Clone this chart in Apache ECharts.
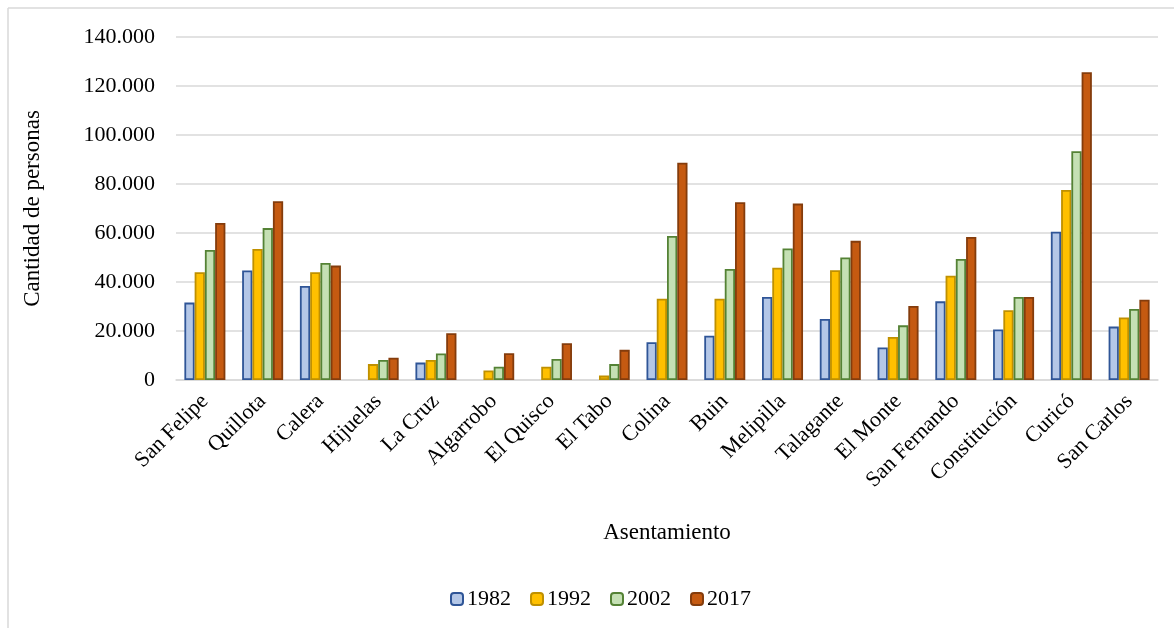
<!DOCTYPE html>
<html>
<head>
    <meta charset="UTF-8" />
    <title>Asentamiento</title>
    <script src="https://cdn.jsdelivr.net/npm/echarts@6/dist/echarts.min.js"></script>
    <style>
        html, body { margin: 0; padding: 0; background: #fff; }
        #main { width: 1174px; height: 628px; }
    </style>
</head>
<body>
    <div id="main"></div>
    <script>
        var categorias = ['San Felipe', 'Quillota', 'Calera', 'Hijuelas', 'La Cruz', 'Algarrobo', 'El Quisco',
            'El Tabo', 'Colina', 'Buin', 'Melipilla', 'Talagante', 'El Monte', 'San Fernando',
            'Constitución', 'Curicó', 'San Carlos'];
        var anos = ['1982', '1992', '2002', '2017'];
        var v1982 = [31600, 44700, 38400, null, 7100, null, null, null, 15400, 18100, 33900, 24900, 13300, 32100, 20600, 60500, 21800];
        var v1992 = [44000, 53500, 44000, 6500, 8200, 3900, 5400, 1800, 33200, 33200, 45800, 44800, 17600, 42600, 28500, 77600, 25500];
        var v2002 = [53100, 62000, 47800, 8200, 10800, 5400, 8600, 6500, 58800, 45300, 53700, 50000, 22300, 49400, 33900, 93400, 29000];
        var v2017 = [64100, 73000, 46700, 9100, 19100, 10900, 15000, 12300, 88700, 72600, 72000, 56800, 30200, 58400, 33900, 125600, 32800];

        var rellenos = ['#B4C7E7', '#FFC000', '#C5E0B4', '#C55A11'];
        var bordes = ['#2F5597', '#BF9000', '#548235', '#843C0C'];
        var valores = [v1982, v1992, v2002, v2017];

        var fuente = 'Liberation Serif';

        var series = [];
        for (var i = 0; i < anos.length; i++) {
            series.push({
                name: anos[i],
                type: 'bar',
                data: valores[i],
                barGap: '0%',
                barCategoryGap: '29%',
                itemStyle: { color: rellenos[i], borderColor: bordes[i], borderWidth: 1.8 }
            });
        }

        var myChart = echarts.init(document.getElementById('main'));
        var option = {
            animation: false,
            textStyle: { fontFamily: fuente, color: '#000' },
            grid: { left: 176, right: 16, top: 37, bottom: 248 },
            legend: {
                data: anos,
                bottom: 13,
                left: 445,
                itemWidth: 12,
                itemHeight: 12,
                itemGap: 19,
                textStyle: { fontFamily: fuente, fontSize: 22, color: '#000', padding: [0, 0, 0, -1] }
            },
            xAxis: {
                type: 'category',
                data: categorias,
                name: 'Asentamiento',
                nameLocation: 'middle',
                nameGap: 141,
                nameTextStyle: { fontFamily: fuente, fontSize: 23, color: '#000' },
                axisLine: { lineStyle: { color: '#d9d9d9', width: 1.5 } },
                axisTick: { show: false },
                axisLabel: {
                    rotate: 45,
                    interval: 0,
                    margin: 18,
                    fontFamily: fuente,
                    fontSize: 22,
                    color: '#000'
                }
            },
            yAxis: {
                type: 'value',
                min: 0,
                max: 140000,
                interval: 20000,
                name: 'Cantidad de personas',
                nameLocation: 'middle',
                nameRotate: 90,
                nameGap: 132,
                nameTextStyle: { fontFamily: fuente, fontSize: 23, color: '#000' },
                axisLine: { show: false },
                axisTick: { show: false },
                splitLine: { lineStyle: { color: '#d9d9d9', width: 1.5 } },
                axisLabel: {
                    margin: 21,
                    fontFamily: fuente,
                    fontSize: 22,
                    color: '#000',
                    formatter: function (v) {
                        return v === 0 ? '0' : String(v).replace(/\B(?=(\d{3})+(?!\d))/g, '.');
                    }
                }
            },
            graphic: [
                { type: 'line', shape: { x1: 8, y1: 8, x2: 1174, y2: 8 }, style: { stroke: '#d9d9d9', lineWidth: 1.5 } },
                { type: 'line', shape: { x1: 8, y1: 8, x2: 8, y2: 628 }, style: { stroke: '#d9d9d9', lineWidth: 1.5 } }
            ],
            series: series
        };
        myChart.setOption(option);
    </script>
</body>
</html>
